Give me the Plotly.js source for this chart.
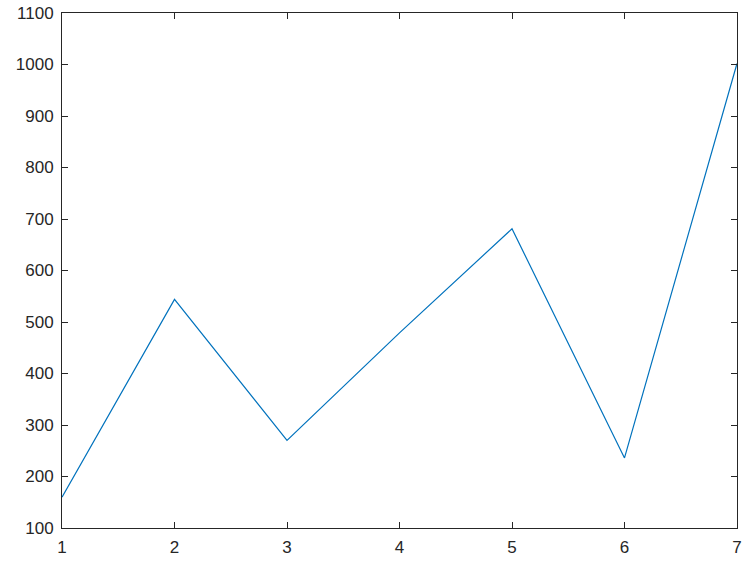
<!DOCTYPE html>
<html>
<head>
<meta charset="utf-8">
<script src="https://cdn.plot.ly/plotly-3.0.1.min.js"></script>
<style>
  html, body { margin:0; padding:0; background:#fff; }
  #chart { width:747px; height:562px; }
</style>
</head>
<body>
<div id="chart"></div>
<script>
// ---- Data ----
const xVals = [1, 2, 3, 4, 5, 6, 7];
const yVals = [160, 544, 270, 479, 681, 236, 1002];
const yTicks = [100, 200, 300, 400, 500, 600, 700, 800, 900, 1000, 1100];

const axisCommon = {
  showline: true, mirror: 'ticks', linecolor: '#262626', linewidth: 1,
  ticks: 'inside', ticklen: 6, tickcolor: '#262626', tickwidth: 1,
  showgrid: false, zeroline: false,
  tickfont: { family: 'Liberation Sans, Arial, sans-serif', size: 17, color: '#262626' }
};

const trace = {
  type: 'scatter', mode: 'lines',
  x: xVals, y: yVals,
  line: { color: '#0072BD', width: 1.2 },
  hoverinfo: 'x+y'
};

const layout = {
  width: 747, height: 562,
  margin: { l: 62, r: 10, t: 13, b: 34 },
  paper_bgcolor: '#fff', plot_bgcolor: '#fff',
  showlegend: false,
  xaxis: Object.assign({}, axisCommon, { range: [1, 7], tickvals: xVals, ticklabelstandoff: 4 }),
  yaxis: Object.assign({}, axisCommon, { range: [100, 1100], tickvals: yTicks, ticklabelstandoff: 4 })
};

Plotly.newPlot('chart', [trace], layout, { displayModeBar: false, staticPlot: true });
</script>
</body>
</html>
